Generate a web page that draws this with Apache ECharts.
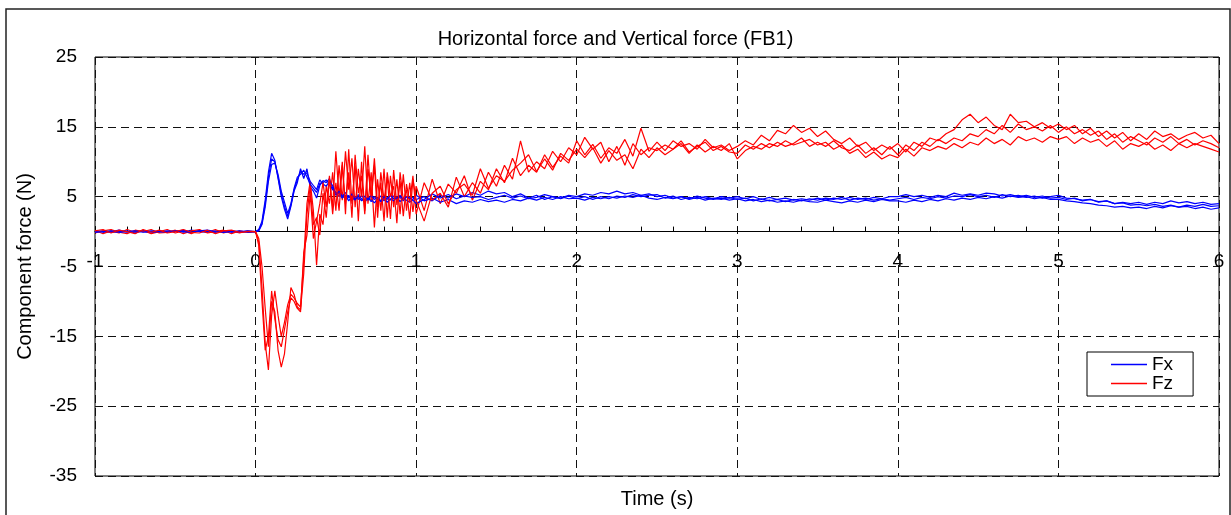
<!DOCTYPE html>
<html>
<head>
<meta charset="utf-8">
<script src="https://cdn.jsdelivr.net/npm/echarts@6/dist/echarts.min.js"></script>
<style>
html, body { margin: 0; padding: 0; background: #fff; }
#chart { width: 1231px; height: 515px; }
</style>
</head>
<body>
<div id="chart"></div>
<script>
// sample times (s): before contact, impact phase, steady phase
var timePre = [-1, -0.95, -0.9, -0.85, -0.8, -0.75, -0.7, -0.65, -0.6, -0.55,
  -0.5, -0.45, -0.4, -0.35, -0.3, -0.25, -0.2, -0.15, -0.1, -0.05];
var timeImpact = [0, 0.02, 0.04, 0.06, 0.08, 0.1, 0.12, 0.14, 0.16, 0.18,
  0.2, 0.22, 0.24, 0.26, 0.28, 0.3, 0.32, 0.34, 0.36, 0.38,
  0.4, 0.42, 0.44, 0.46, 0.48, 0.5, 0.52, 0.54, 0.56, 0.58,
  0.6, 0.62, 0.64, 0.66, 0.68, 0.7, 0.72, 0.74, 0.76, 0.78,
  0.8, 0.82, 0.84, 0.86, 0.88, 0.9, 0.92, 0.94, 0.96, 0.98];
var timeSteady = [1, 1.05, 1.1, 1.15, 1.2, 1.25, 1.3, 1.35, 1.4, 1.45,
  1.5, 1.55, 1.6, 1.65, 1.7, 1.75, 1.8, 1.85, 1.9, 1.95,
  2, 2.05, 2.1, 2.15, 2.2, 2.25, 2.3, 2.35, 2.4, 2.45,
  2.5, 2.55, 2.6, 2.65, 2.7, 2.75, 2.8, 2.85, 2.9, 2.95,
  3, 3.05, 3.1, 3.15, 3.2, 3.25, 3.3, 3.35, 3.4, 3.45,
  3.5, 3.55, 3.6, 3.65, 3.7, 3.75, 3.8, 3.85, 3.9, 3.95,
  4, 4.05, 4.1, 4.15, 4.2, 4.25, 4.3, 4.35, 4.4, 4.45,
  4.5, 4.55, 4.6, 4.65, 4.7, 4.75, 4.8, 4.85, 4.9, 4.95,
  5, 5.05, 5.1, 5.15, 5.2, 5.25, 5.3, 5.35, 5.4, 5.45,
  5.5, 5.55, 5.6, 5.65, 5.7, 5.75, 5.8, 5.85, 5.9, 5.95, 6];
var time = timePre.concat(timeImpact, timeSteady);

// horizontal force Fx (N), three runs
var fx1 = [
  0.1,-0.1,0.0,0.2,-0.1,0.1,0.0,-0.2,0.1,0.0,0.1,-0.1,0.2,0.0,-0.1,0.1,0.0,0.1,-0.1,0.0,
  0.0,0.3,1.5,4.5,8.5,11.2,10.2,7.6,5.0,3.2,
  1.8,3.6,5.8,7.0,9.0,7.6,9.0,6.4,5.8,4.8,
  6.6,7.3,7.0,7.6,6.2,5.6,5.0,5.4,4.6,5.2,
  4.4,5.0,4.6,5.2,4.5,4.9,4.3,5.0,4.6,5.1,
  4.4,4.9,4.5,5.1,4.6,4.9,4.4,5.0,4.7,4.9,
  4.6,5.0,4.4,5.2,4.8,5.4,5.0,5.6,5.2,5.8,
  5.4,5.6,5.0,5.4,4.8,5.2,4.6,5.0,4.8,5.2,
  5.0,5.4,5.2,5.6,5.4,5.8,5.4,5.6,5.2,5.4,
  5.0,5.2,4.8,5.0,4.6,4.9,4.5,4.8,4.6,4.9,
  4.6,4.8,4.4,4.7,4.4,4.6,4.3,4.6,4.4,4.7,
  4.5,4.8,4.6,4.9,4.5,4.8,4.6,4.9,4.7,5.0,
  5.0,5.3,5.0,5.2,4.9,5.2,5.0,5.5,5.2,5.4,
  5.2,5.5,5.4,5.1,5.3,5.0,5.2,4.9,5.1,4.8,
  4.9,4.6,4.8,4.4,4.6,4.2,4.4,4.0,4.2,4.0,
  4.2,3.9,4.2,4.0,4.4,4.1,4.3,4.0,4.2,3.9,4.0
];
var fx2 = [
  0.0,0.1,-0.1,0.0,0.1,-0.2,0.1,0.0,-0.1,0.1,0.0,0.2,-0.1,0.1,0.0,-0.1,0.1,-0.1,0.0,0.1,
  0.0,0.1,1.0,3.5,7.2,9.6,9.8,8.2,5.8,4.2,
  2.6,4.0,6.2,7.8,8.2,8.8,7.8,6.8,6.2,5.6,
  6.9,7.0,7.4,6.8,6.0,5.6,5.4,4.8,5.2,4.4,
  5.0,4.5,5.3,4.7,4.2,4.8,4.6,4.1,4.7,4.3,
  4.8,4.2,4.7,4.4,4.9,4.3,4.8,4.5,4.2,4.6,
  5.2,4.4,4.8,4.2,4.6,4.0,4.4,4.2,4.6,4.3,
  4.5,4.2,4.6,4.4,4.8,4.5,4.9,4.6,5.0,4.7,
  4.8,4.5,4.9,4.7,5.0,4.8,5.1,4.9,5.2,4.8,
  4.6,4.9,4.7,5.0,4.7,5.1,4.8,4.6,4.8,4.5,
  4.7,4.4,4.6,4.3,4.5,4.2,4.4,4.2,4.5,4.3,
  4.2,4.5,4.3,4.1,4.4,4.2,4.5,4.3,4.6,4.4,
  4.4,4.2,4.5,4.3,4.6,4.4,4.7,4.5,4.8,4.6,
  4.9,4.7,5.0,4.8,5.1,4.9,5.0,4.7,4.9,4.6,
  4.6,4.4,4.3,4.1,4.0,3.8,3.7,3.5,3.6,3.4,
  3.5,3.3,3.6,3.4,3.7,3.5,3.6,3.3,3.5,3.2,3.4
];
var fx3 = [
  -0.1,0.0,0.1,-0.1,0.0,0.1,-0.1,0.1,0.0,-0.1,0.1,0.0,-0.1,0.1,0.2,0.0,-0.1,0.0,0.1,-0.1,
  0.0,0.2,1.2,4.0,7.8,10.4,10.0,7.8,5.4,3.6,
  2.2,3.8,6.0,7.4,8.6,8.2,8.4,7.2,6.6,6.0,
  7.4,6.8,6.5,7.2,6.6,5.2,5.8,5.0,5.6,4.8,
  5.4,4.6,5.0,4.4,5.1,4.5,5.2,4.6,4.9,4.4,
  5.0,4.6,5.2,4.7,4.8,5.2,4.6,5.0,4.8,4.5,
  4.0,4.6,5.4,4.8,5.3,4.7,5.1,4.9,5.0,4.6,
  4.9,5.2,4.8,5.1,4.7,4.9,5.3,5.0,4.7,5.1,
  4.7,5.0,4.6,5.0,4.7,5.1,4.9,5.3,5.0,5.2,
  5.3,4.8,5.1,4.6,4.9,4.7,5.0,4.7,5.0,4.8,
  5.0,4.7,5.0,4.6,4.9,4.6,4.8,4.5,4.7,4.5,
  4.8,4.5,4.8,4.6,4.9,4.6,4.8,4.5,4.7,4.5,
  4.7,4.9,4.6,4.9,4.7,5.0,4.8,5.1,5.0,5.3,
  5.0,5.2,4.9,5.3,5.0,5.2,4.9,5.1,4.8,5.0,
  5.2,4.8,4.7,4.5,4.6,4.3,4.4,4.0,4.1,3.8,
  3.9,3.7,3.9,3.6,3.8,3.5,3.8,3.6,3.9,3.6,3.7
];

// vertical force Fz (N), three runs
var fz1 = [
  0.2,-0.3,0.1,-0.2,0.3,-0.1,0.2,-0.3,0.0,0.3,-0.2,0.1,-0.3,0.2,-0.1,0.3,-0.2,0.1,-0.2,0.1,
  0,-1.5,-8,-16,-19.8,-12,-8.5,-12,-15,-13,
  -10.5,-9,-9.5,-10.3,-10.8,-4,4,7.2,3,-4.8,
  2.5,1.0,6.5,4.0,8.5,3.0,9.5,4.5,11.5,6.0,
  10.5,3.5,9.0,5.0,12.2,4.0,8.5,0.6,7.5,3.0,
  9.0,2.0,8.0,3.5,7.5,2.5,8.2,3.0,7.0,2.8,
  6.5,3.0,7.5,4.0,6.8,5.5,8.0,4.5,7.2,6.0,
  9.0,7.0,10.5,8.0,9.5,8.5,11.0,9.2,10.8,9.8,
  13.0,11.0,12.5,10.5,12.0,11.2,13.2,10.8,14.8,11.5,
  12.8,11.6,13.0,12.2,12.6,11.8,13.2,12.0,12.4,11.6,
  12.2,13.0,12.4,13.8,13.0,14.5,14.0,15.2,14.2,14.8,
  13.6,14.4,13.2,12.6,13.4,12.2,12.8,11.6,12.4,11.8,
  12.6,11.4,12.8,12.2,13.4,13.0,14.0,14.6,16.0,16.8,
  15.6,16.4,15.2,14.6,16.8,15.6,15.8,15.0,15.6,14.8,
  15.4,14.6,15.2,14.0,14.8,13.6,14.4,13.4,14.2,13.0,
  14.0,13.2,14.4,13.6,14.0,13.2,13.8,14.2,13.4,13.8,12.6
];
var fz2 = [
  -0.2,0.1,0.3,-0.1,-0.3,0.2,0.0,0.3,-0.2,-0.1,0.2,-0.3,0.1,0.3,-0.2,0.0,0.2,-0.3,0.1,-0.1,
  0,-1,-5,-11,-16.5,-10,-11.5,-17,-19.4,-17.5,
  -13,-8,-9,-10.8,-11.2,-6,2.5,6.5,1.0,2.0,
  -0.5,5.5,2.0,7.5,3.5,11.5,5.0,10.0,2.5,11.8,
  4.0,9.5,1.5,10.0,3.0,11.0,4.5,9.5,2.0,8.5,
  4.5,7.8,1.8,8.8,3.8,7.2,2.2,6.8,4.2,8.0,
  2.5,7.0,4.5,5.5,3.5,7.8,5.0,7.0,5.5,8.5,
  6.5,9.5,7.5,13.0,8.5,10.0,9.0,11.5,10.0,12.0,
  11.0,13.5,11.8,12.8,10.0,12.2,9.5,12.6,11.0,12.0,
  11.6,12.4,11.8,13.0,11.4,12.2,12.8,11.6,12.2,11.4,
  11.2,12.4,11.8,12.6,12.0,12.8,12.2,12.6,13.4,12.2,
  12.8,12.2,13.0,12.0,11.6,12.4,11.2,12.0,11.0,12.2,
  11.0,12.4,11.6,12.8,12.2,13.2,12.6,13.4,13.0,14.0,
  13.6,14.6,14.0,15.2,14.2,15.4,14.6,15.0,14.4,15.2,
  14.2,15.0,14.0,14.6,13.8,14.4,13.2,14.0,12.8,13.6,
  13.0,12.4,13.4,12.8,13.6,12.6,13.2,12.4,13.0,12.6,12.0
];
var fz3 = [
  0.1,0.3,-0.2,0.2,0.0,-0.3,0.3,-0.1,0.2,-0.2,0.0,0.3,-0.1,-0.2,0.2,-0.3,0.1,0.2,-0.1,0.0,
  0,-2,-10,-17,-15,-8.5,-12.5,-15.5,-16.5,-14,
  -11.5,-9.5,-10,-11,-11.5,-3,-0.5,5.5,-1.0,1.5,
  4.0,7.0,3.5,8.0,2.5,7.0,3.0,9.5,4.0,8.5,
  2.0,11.0,5.5,8.0,2.5,9.0,5.0,10.5,3.5,7.0,
  1.5,8.5,5.0,6.5,1.2,8.5,4.5,6.0,1.8,7.5,
  4.5,1.5,5.5,6.5,4.0,6.0,6.8,5.2,9.0,6.2,
  8.0,7.2,8.8,9.8,11.0,8.6,10.4,8.8,11.2,10.2,
  11.8,10.6,12.0,9.8,11.6,10.2,11.0,9.0,11.8,10.6,
  12.0,11.0,11.8,12.6,11.2,12.4,11.4,12.2,11.6,12.6,
  10.4,11.6,12.2,11.8,12.6,12.2,13.0,12.4,12.8,13.2,
  12.4,12.8,11.8,12.4,11.2,11.8,10.6,11.4,10.4,11.0,
  10.6,11.8,10.8,12.0,11.6,12.2,11.8,12.6,12.0,12.8,
  12.4,13.4,12.6,13.2,12.4,13.6,13.0,13.4,12.8,13.6,
  13.2,13.6,12.6,13.4,12.8,13.2,12.2,13.0,11.8,12.6,
  12.2,12.8,11.8,12.4,11.6,12.6,12.0,12.6,12.2,11.8,11.4
];

var FONT = '"Liberation Sans", Arial, sans-serif';

// plot box in pixels, used to put the time axis on the zero line
var GRID_TOP = 57, GRID_BOTTOM = 39, CHART_H = 515;
var Y_MIN = -35, Y_MAX = 25;
var plotH = CHART_H - GRID_TOP - GRID_BOTTOM;
var zeroOffset = -plotH * (0 - Y_MIN) / (Y_MAX - Y_MIN);

function pairs(values) {
  return time.map(function (t, i) { return [t, values[i]]; });
}

function forceLine(name, color, values) {
  return {
    name: name,
    type: 'line',
    xAxisIndex: 0,
    symbol: 'none',
    showSymbol: false,
    lineStyle: { color: color, width: 1.2 },
    itemStyle: { color: color },
    data: pairs(values)
  };
}

var chart = echarts.init(document.getElementById('chart'));

chart.setOption({
  animation: false,
  backgroundColor: '#fff',
  textStyle: { fontFamily: FONT, color: '#000' },
  title: {
    text: 'Horizontal force and Vertical force (FB1)',
    left: 'center',
    top: 24,
    textStyle: { fontFamily: FONT, fontSize: 20, fontWeight: 'normal', color: '#000' }
  },
  legend: {
    data: ['Fx', 'Fz'],
    orient: 'vertical',
    left: 1087,
    top: 352,
    icon: 'rect',
    itemWidth: 36,
    itemHeight: 1.5,
    itemGap: 0,
    padding: [3, 20, 3, 24],
    borderColor: '#000',
    borderWidth: 1,
    backgroundColor: '#fff',
    textStyle: { fontFamily: FONT, fontSize: 19, color: '#000', lineHeight: 19, padding: [0, 0, 0, 0] }
  },
  grid: {
    left: 95,
    right: 12,
    top: GRID_TOP,
    bottom: GRID_BOTTOM,
    show: true,
    borderColor: '#000',
    borderWidth: 1,
    backgroundColor: 'transparent'
  },
  xAxis: [
    {
      type: 'value',
      min: -1,
      max: 6,
      interval: 1,
      position: 'bottom',
      offset: zeroOffset,
      axisLine: { onZero: false, lineStyle: { color: '#000', width: 1 } },
      axisTick: { show: true, inside: true, length: 5, lineStyle: { color: '#000' } },
      minorTick: { show: true, splitNumber: 5, length: 5, lineStyle: { color: '#000' } },
      axisLabel: { margin: 21, fontSize: 19, color: '#000', fontFamily: FONT, showMinLabel: true, showMaxLabel: true },
      splitLine: { show: true, lineStyle: { color: '#111', type: [8, 5], width: 1 } }
    },
    {
      type: 'value',
      min: -1,
      max: 6,
      position: 'bottom',
      axisLine: { show: false, onZero: false },
      axisTick: { show: false },
      axisLabel: { show: false },
      splitLine: { show: false },
      name: 'Time (s)',
      nameLocation: 'middle',
      nameGap: 13,
      nameTextStyle: { fontSize: 20, color: '#000', fontFamily: FONT }
    }
  ],
  yAxis: {
    type: 'value',
    min: Y_MIN,
    max: Y_MAX,
    interval: 10,
    axisLine: { show: false },
    axisTick: { show: false },
    axisLabel: { margin: 18, fontSize: 19, color: '#000', fontFamily: FONT },
    splitLine: { show: true, lineStyle: { color: '#111', type: [8, 5], width: 1 } },
    name: 'Component force (N)',
    nameLocation: 'middle',
    nameGap: 60,
    nameTextStyle: { fontSize: 20, color: '#000', fontFamily: FONT }
  },
  graphic: [
    {
      type: 'rect',
      silent: true,
      z: -10,
      shape: { x: 6, y: 9, width: 1224, height: 520 },
      style: { fill: 'none', stroke: '#222', lineWidth: 1.5 }
    }
  ],
  series: [
    forceLine('Fx', '#0000ff', fx1),
    forceLine('Fz', '#ff0000', fz1),
    forceLine('Fx', '#0000ff', fx2),
    forceLine('Fz', '#ff0000', fz2),
    forceLine('Fx', '#0000ff', fx3),
    forceLine('Fz', '#ff0000', fz3)
  ]
});
</script>
</body>
</html>
